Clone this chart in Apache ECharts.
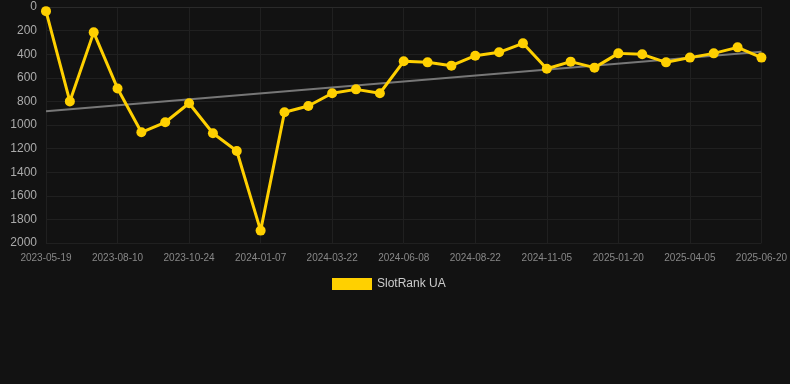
<!DOCTYPE html>
<html>
<head>
<meta charset="utf-8">
<script src="https://cdn.jsdelivr.net/npm/echarts@6/dist/echarts.min.js"></script>
<style>
  html, body { margin: 0; padding: 0; background: #121212; }
  #chart { width: 790px; height: 384px; }
</style>
</head>
<body>
<div id="chart"></div>
<script>
const dates = [
  '2023-05-19', '2023-06-16', '2023-07-14', '2023-08-10', '2023-09-03', '2023-09-28',
  '2023-10-24', '2023-11-20', '2023-12-14', '2024-01-07', '2024-02-01', '2024-02-26',
  '2024-03-22', '2024-04-17', '2024-05-13', '2024-06-08', '2024-07-02', '2024-07-28',
  '2024-08-22', '2024-09-16', '2024-10-11', '2024-11-05', '2024-12-01', '2024-12-26',
  '2025-01-20', '2025-02-14', '2025-03-11', '2025-04-05', '2025-04-30', '2025-05-26',
  '2025-06-20'
];
const ranks = [
  35, 800, 215, 690, 1062, 977, 816, 1070, 1220, 1895,
  892, 839, 731, 698, 731, 460, 469, 497, 413, 384,
  308, 523, 463, 514, 393, 401, 469, 429, 393, 342, 429
];

// least squares trend over the category index
const n = ranks.length;
let sx = 0, sy = 0, sxy = 0, sxx = 0;
ranks.forEach((v, i) => { sx += i; sy += v; sxy += i * v; sxx += i * i; });
const slope = (n * sxy - sx * sy) / (n * sxx - sx * sx);
const icpt = (sy - slope * sx) / n;
const trend = ranks.map((_, i) => (i === 0 || i === n - 1) ? +(icpt + slope * i).toFixed(1) : null);

const chart = echarts.init(document.getElementById('chart'));
chart.setOption({
  backgroundColor: '#121212',
  animation: false,
  grid: { left: 46, right: 28, top: 7, bottom: 141 },
  legend: {
    top: 273,
    left: 327,
    data: ['SlotRank UA'],
    itemWidth: 40,
    itemHeight: 12,
    icon: 'rect',
    textStyle: { color: '#cccccc', fontSize: 12 }
  },
  xAxis: {
    type: 'category',
    data: dates,
    boundaryGap: false,
    axisLine: { lineStyle: { color: '#2a2a2a' } },
    axisTick: { show: false },
    axisLabel: { color: '#888', fontSize: 10, interval: 2, margin: 10 },
    splitLine: { show: true, interval: 2, lineStyle: { color: '#202020' } }
  },
  yAxis: {
    type: 'value',
    inverse: true,
    min: 0,
    max: 2000,
    interval: 200,
    axisLine: { show: false },
    axisTick: { show: false },
    axisLabel: { color: '#aaa', fontSize: 12, margin: 9, formatter: (v) => String(v) },
    splitLine: { lineStyle: { color: '#202020' } }
  },
  series: [
    {
      name: 'SlotRank UA',
      type: 'line',
      data: ranks,
      color: '#ffd000',
      lineStyle: { width: 3, color: '#ffd000' },
      symbol: 'circle',
      symbolSize: 10,
      itemStyle: { color: '#ffd000' },
      z: 3
    },
    {
      name: 'trend',
      type: 'line',
      data: trend,
      connectNulls: true,
      symbol: 'none',
      lineStyle: { width: 2, color: '#777' },
      z: 2
    }
  ]
});
</script>
</body>
</html>
